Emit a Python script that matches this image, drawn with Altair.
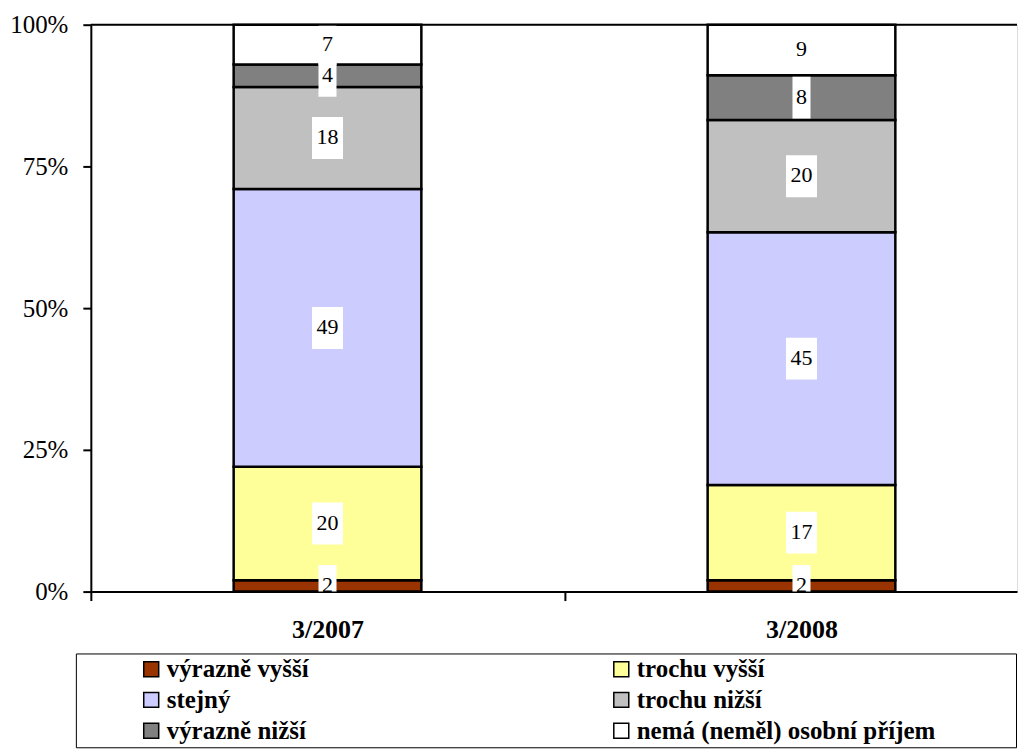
import altair as alt
import pandas as pd

categories = ["3/2007", "3/2008"]
series = ["výrazně vyšší", "trochu vyšší", "stejný", "trochu nižší",
          "výrazně nižší", "nemá (neměl) osobní příjem"]
values_2007 = [2, 20, 49, 18, 4, 7]
values_2008 = [2, 17, 45, 20, 8, 9]
colors = ["#993300", "#FFFF99", "#CCCCFF", "#C0C0C0", "#808080", "#FFFFFF"]
y_ticks = [0, 0.25, 0.5, 0.75, 1.0]

rows = []
for cat, vals in zip(categories, [values_2007, values_2008]):
    for i, (s, v) in enumerate(zip(series, vals)):
        rows.append({"period": cat, "series": s, "value": v, "order": i})
df = pd.DataFrame(rows)

FONT = "Liberation Serif"

x_scale = alt.Scale(paddingInner=0.604, paddingOuter=0.279, align=0.54)

x_enc = alt.X(
    "period:N",
    sort=categories,
    scale=x_scale,
    axis=alt.Axis(
        title=None, labelFont=FONT, labelFontSize=26, labelFontWeight="bold",
        labelColor="black", labelAngle=0, domainColor="black", domainWidth=2,
        tickColor="black", tickWidth=2, tickSize=9, tickOffset=-237.5,
        labelOffset=237.5, labelPadding=16,
    ),
)

base = alt.Chart(df).transform_stack(
    stack="value", as_=["y0", "y1"], groupby=["period"],
    sort=[alt.SortField("order", order="ascending")], offset="normalize",
).transform_calculate(
    mid="(datum.y0 + datum.y1) / 2",
    digits="datum.value >= 10 ? 'two' : 'one'",
)

bars = base.mark_bar(stroke="black", strokeWidth=2.5).encode(
    x=x_enc,
    y=alt.Y(
        "y0:Q",
        scale=alt.Scale(domain=[0, 1]),
        axis=alt.Axis(
            format="%", values=y_ticks, title=None, grid=False,
            labelFont=FONT, labelFontSize=25, labelColor="black",
            domainColor="black", domainWidth=2, tickColor="black",
            tickWidth=2, tickSize=8, labelPadding=15,
        ),
    ),
    y2="y1:Q",
    color=alt.Color(
        "series:N",
        scale=alt.Scale(domain=series, range=colors),
        legend=alt.Legend(
            title=" ", titleOrient="right", titlePadding=78,
            orient="none", legendX=-15, legendY=630, columns=2,
            direction="horizontal",
            labelFont=FONT, labelFontSize=25, labelFontWeight="bold",
            labelColor="black", labelLimit=600, labelOffset=3,
            symbolType="square", symbolSize=225, symbolStrokeColor="black",
            symbolStrokeWidth=1.5, symbolOffset=60,
            strokeColor="black", fillColor="white", padding=3,
            rowPadding=5, columnPadding=240,
        ),
    ),
    order=alt.Order("order:Q"),
)

box_paths = [
    "M-0.43,-1H0.43V1H-0.43Z",
    "M-0.74,-1H0.74V1H-0.74Z",
]

boxes = base.mark_point(
    filled=True, color="white", opacity=1, size=1764, strokeWidth=0, clip=True
).encode(
    x=alt.X("period:N", sort=categories),
    y=alt.Y("mid:Q"),
    shape=alt.Shape("digits:N", scale=alt.Scale(domain=["one", "two"], range=box_paths), legend=None),
)

labels = base.mark_text(
    font=FONT, fontSize=22, color="black", baseline="middle", dy=-1
).encode(
    x=alt.X("period:N", sort=categories),
    y=alt.Y("mid:Q"),
    text=alt.Text("value:Q"),
)

top_line = alt.Chart(pd.DataFrame({"top": [1.0]})).mark_rule(
    color="black", strokeWidth=2
).encode(y=alt.Y("top:Q"))

chart = alt.layer(bars, boxes, labels, top_line).properties(
    width=928, height=568,
    padding={"left": 1, "top": 4, "right": 0, "bottom": 0},
).configure_view(stroke=None).configure(font=FONT, background="white")

chart.save("out.html", embed_options={"renderer": "svg", "actions": False})
